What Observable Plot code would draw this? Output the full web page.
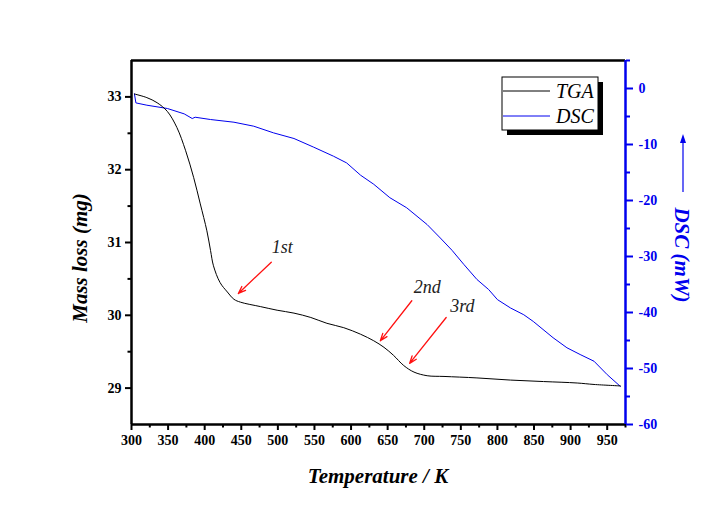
<!DOCTYPE html>
<html>
<head>
<meta charset="utf-8">
<script src="https://cdn.jsdelivr.net/npm/d3@7"></script>
<script src="https://cdn.jsdelivr.net/npm/@observablehq/plot@0.6"></script>
<style>
  html, body { margin: 0; padding: 0; background: #fff; }
  #chart { width: 728px; height: 510px; }
</style>
</head>
<body>
<div id="chart"></div>
<script>
// ---- data ----
const tgaT = [304, 321, 335, 349, 362, 374, 385, 394, 403, 408, 412, 421, 431, 440, 449, 476, 499, 522, 545, 567, 590, 613, 631, 645, 658, 672, 686, 704, 727, 772, 818, 863, 909, 932, 968];
const tgaM = [33.04, 32.99, 32.92, 32.80, 32.58, 32.26, 31.89, 31.53, 31.16, 30.89, 30.68, 30.45, 30.32, 30.22, 30.18, 30.12, 30.07, 30.03, 29.97, 29.89, 29.83, 29.74, 29.65, 29.56, 29.45, 29.31, 29.22, 29.17, 29.16, 29.14, 29.11, 29.09, 29.07, 29.05, 29.03];

const dscT = [304, 306, 321, 349, 372, 383, 387, 408, 440, 467, 494, 522, 549, 576, 594, 613, 631, 653, 676, 704, 722, 738, 754, 772, 788, 800, 818, 836, 849, 876, 895, 913, 932, 950, 968];
const dscV = [-0.96, -2.57, -2.98, -3.57, -4.53, -5.36, -5.13, -5.54, -6.02, -6.73, -7.92, -8.93, -10.48, -12.09, -13.29, -15.48, -17.1, -19.5, -21.3, -24.3, -26.7, -28.9, -31.4, -34.1, -35.9, -37.7, -39.2, -40.4, -41.6, -44.5, -46.3, -47.5, -48.7, -51.1, -53.2];

const xDomain = [300, 975];
const massDomain = [28.5, 33.5];
const dscDomain = [-60, 5];

const xTicks = [300, 350, 400, 450, 500, 550, 600, 650, 700, 750, 800, 850, 900, 950];
const xMinor = [325, 375, 425, 475, 525, 575, 625, 675, 725, 775, 825, 875, 925, 975];
const massTicks = [29, 30, 31, 32, 33];
const massMinor = [29.5, 30.5, 31.5, 32.5];
const dscTicks = [-60, -50, -40, -30, -20, -10, 0];
const dscMinor = [-55, -45, -35, -25, -15, -5, 5];

const legendLabels = ["TGA", "DSC"];

const annotLabels = ["1st", "2nd", "3rd"];
const annotTextT = [506, 704, 752];
const annotTextM = [30.94, 30.39, 30.13];
const arrowT1 = [491, 683, 730];
const arrowM1 = [30.73, 30.20, 29.97];
const arrowT2 = [446, 640, 680];
const arrowM2 = [30.30, 29.65, 29.34];

// ---- mapping DSC onto the mass scale ----
const toY = d => massDomain[0] + (d - dscDomain[0]) * (massDomain[1] - massDomain[0]) / (dscDomain[1] - dscDomain[0]);
const fromY = y => dscDomain[0] + (y - massDomain[0]) * (dscDomain[1] - dscDomain[0]) / (massDomain[1] - massDomain[0]);

const tga = tgaT.map((t, i) => ({t, v: tgaM[i]}));
const dsc = dscT.map((t, i) => ({t, v: toY(dscV[i])}));
const annots = annotLabels.map((label, i) => ({
  label, tx: annotTextT[i], ty: annotTextM[i],
  x1: arrowT1[i], y1: arrowM1[i], x2: arrowT2[i], y2: arrowM2[i]
}));

const BLUE = "#0000ee";
const SERIF = "Liberation Serif, DejaVu Serif, serif";

const plot = Plot.plot({
  width: 728,
  height: 510,
  marginLeft: 131,
  marginRight: 103,
  marginTop: 60,
  marginBottom: 86,
  style: {background: "#fff", overflow: "visible"},
  x: {domain: xDomain, label: null},
  y: {domain: massDomain, label: null},
  marks: [
    Plot.axisX({ticks: xTicks, tickSize: 6, tickPadding: 5, strokeWidth: 2, tickFormat: d3.format("d"), label: null,
      fontSize: 14, fontWeight: "bold", fontFamily: SERIF}),
    Plot.axisX({ticks: xMinor, tickSize: 3.5, strokeWidth: 2, text: null, label: null}),
    Plot.axisY({ticks: massTicks, tickSize: 6, tickPadding: 4, strokeWidth: 2, tickFormat: d3.format("d"), label: null,
      fontSize: 14, fontWeight: "bold", fontFamily: SERIF}),
    Plot.axisY({ticks: massMinor, tickSize: 3.5, strokeWidth: 2, text: null, label: null}),
    Plot.axisY({anchor: "right", ticks: dscTicks.map(toY), tickSize: 7, tickPadding: 6, strokeWidth: 2, color: BLUE,
      tickFormat: y => String(Math.round(fromY(y))), label: null, fontSize: 14, fontWeight: "bold", fontFamily: SERIF}),
    Plot.axisY({anchor: "right", ticks: dscMinor.map(toY), tickSize: 4, strokeWidth: 2, color: BLUE, text: null, label: null}),
    Plot.ruleY([massDomain[0]], {stroke: "#000", strokeWidth: 2.5}),
    Plot.ruleY([massDomain[1]], {stroke: "#000", strokeWidth: 2.5}),
    Plot.ruleX([xDomain[0]], {stroke: "#000", strokeWidth: 2.5}),
    Plot.ruleX([xDomain[1]], {stroke: BLUE, strokeWidth: 2.5}),
    Plot.line(dsc, {x: "t", y: "v", stroke: BLUE, strokeWidth: 1}),
    Plot.line(tga, {x: "t", y: "v", stroke: "#000", strokeWidth: 1, curve: "catmull-rom"}),
    Plot.arrow(annots, {x1: "x1", y1: "y1", x2: "x2", y2: "y2", stroke: "#ff1010", strokeWidth: 1.3, headLength: 9, headAngle: 40}),
    Plot.text(annots, {x: "tx", y: "ty", text: "label", fontStyle: "italic", fontSize: 18, fill: "#222", fontFamily: SERIF})
  ]
});

document.getElementById("chart").appendChild(plot);

const svg = d3.select(plot);
// force serif on every text element
svg.selectAll("text").attr("font-family", SERIF).style("font-family", SERIF);

const xs = plot.scale("x");
const ys = plot.scale("y");
const X = v => xs.apply(v), Y = v => ys.apply(v);

const cx = (X(xDomain[0]) + X(xDomain[1])) / 2;
const cy = (Y(massDomain[0]) + Y(massDomain[1])) / 2;

function title(sel) {
  return sel.style("font-family", SERIF).style("font-size", "21px")
    .style("font-weight", "bold").style("font-style", "italic");
}

// x title
title(svg.append("text").attr("x", cx).attr("y", 483).attr("text-anchor", "middle")).text("Temperature / K");

// left y title
title(svg.append("text").attr("transform", `translate(87,${cy + 16}) rotate(-90)`).attr("text-anchor", "middle"))
  .text("Mass loss (mg)");

// right y title
title(svg.append("text").attr("transform", `translate(675,255) rotate(90)`).attr("text-anchor", "middle").attr("fill", BLUE))
  .text("DSC (mW)");

// arrow beside right title
svg.append("line").attr("x1", 683).attr("x2", 683).attr("y1", 192).attr("y2", 140)
  .attr("stroke", BLUE).attr("stroke-width", 1.2);
svg.append("path").attr("d", "M683,134 L680,143 L686,143 Z").attr("fill", BLUE);

// legend
const lg = svg.append("g");
lg.append("rect").attr("x", 507).attr("y", 82).attr("width", 96).attr("height", 53).attr("fill", "#000");
lg.append("rect").attr("x", 502).attr("y", 77).attr("width", 96).attr("height", 53)
  .attr("fill", "#fff").attr("stroke", "#000").attr("stroke-width", 1);
const legColors = ["#000", BLUE];
legendLabels.forEach((lab, i) => {
  const yy = 91 + i * 25;
  lg.append("line").attr("x1", 503).attr("x2", 550).attr("y1", yy).attr("y2", yy)
    .attr("stroke", legColors[i]).attr("stroke-width", 1);
  lg.append("text").attr("x", 556).attr("y", yy + 7)
    .attr("text-anchor", "start")
    .style("font-family", SERIF).style("font-size", "20px").style("font-style", "italic").style("font-weight", "normal")
    .attr("fill", "#000").text(lab);
});
</script>
</body>
</html>
